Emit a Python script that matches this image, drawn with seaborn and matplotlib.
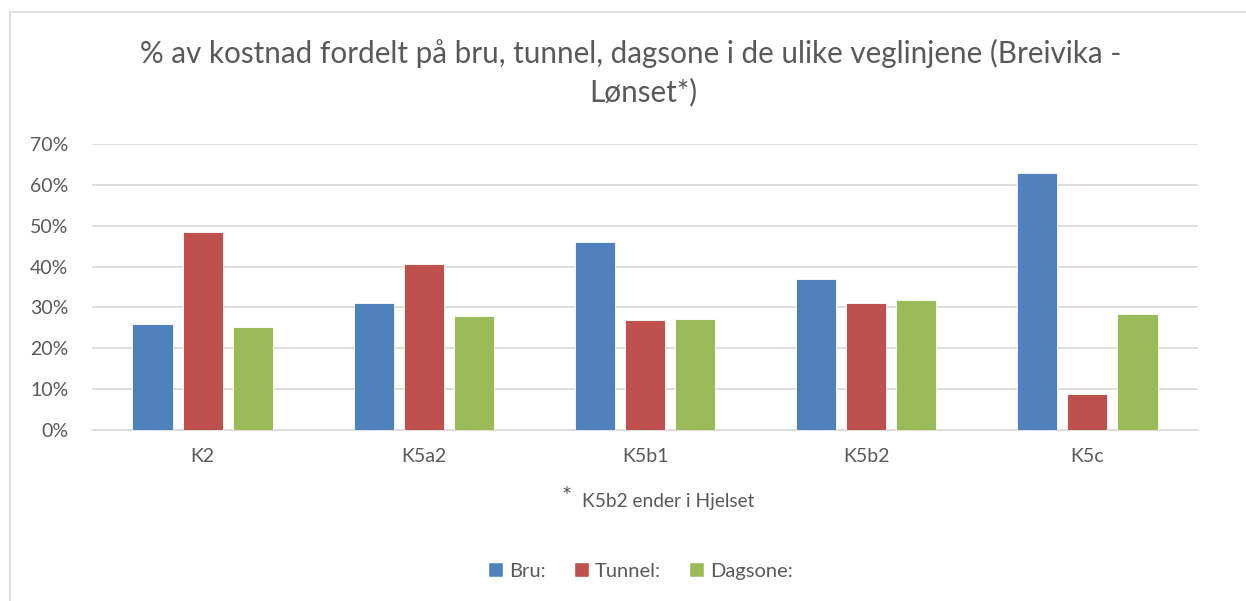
import numpy as np
import pandas as pd
import seaborn as sns
import matplotlib.pyplot as plt
import matplotlib.patches as mpatches
from matplotlib.ticker import PercentFormatter

# Data (percent of cost)
linjer = ['K2', 'K5a2', 'K5b1', 'K5b2', 'K5c']
bru = [26.0, 31.2, 45.9, 37.0, 62.8]
tunnel = [48.5, 40.6, 26.9, 31.1, 8.7]
dagsone = [25.3, 28.0, 27.1, 31.7, 28.3]
serier = ['Bru:', 'Tunnel:', 'Dagsone:']
farger = ['#4F81BD', '#C0504D', '#9BBB59']

df = pd.DataFrame({
    'linje': linjer * 3,
    'type': [serier[0]] * 5 + [serier[1]] * 5 + [serier[2]] * 5,
    'andel': bru + tunnel + dagsone,
})

sns.set_theme(style="white")
plt.rcParams['font.family'] = ['Lato', 'DejaVu Sans']
tekst = '#595959'
grid = '#D9D9D9'

fig = plt.figure(figsize=(12.46, 6.01), dpi=100)
ax = fig.add_axes([92/1246, 1-430/601, (1198-92)/1246, (430-144)/601])

sns.barplot(data=df, x='linje', y='andel', hue='type', palette=farger,
            width=0.68, gap=0.2, errorbar=None, saturation=1, ax=ax,
            edgecolor='white', linewidth=0.6, zorder=3)

ax.set_ylim(0, 70)
ax.set_yticks(np.arange(0, 71, 10))
ax.yaxis.set_major_formatter(PercentFormatter(100, decimals=0))
ax.set_xlim(-0.5, 4.5)
ax.set(xlabel='', ylabel='')
ax.grid(axis='y', color=grid, linewidth=1.2, zorder=0)
ax.set_axisbelow(True)
for s in ['left', 'right', 'top']:
    ax.spines[s].set_visible(False)
ax.spines['bottom'].set_color(grid)
ax.spines['bottom'].set_linewidth(1.2)
ax.tick_params(axis='both', length=0, labelsize=14, colors=tekst)
ax.tick_params(axis='x', pad=13)
ax.tick_params(axis='y', pad=17)
ax.get_legend().remove()

# Title in two lines
fig.text(0.506, 1-53/601, '% av kostnad fordelt på bru, tunnel, dagsone i de ulike veglinjene (Breivika -',
         ha='center', va='center', fontsize=21.3, color=tekst)
fig.text(0.516, 1-92/601, 'Lønset*)', ha='center', va='center', fontsize=21.3, color=tekst)

# Footnote
fig.text(562/1246, 1-497/601, '*', ha='left', va='center', fontsize=17, color=tekst)
fig.text(582/1246, 1-502/601, 'K5b2 ender i Hjelset', ha='left', va='center', fontsize=13.8, color=tekst)

# Legend
handles = [mpatches.Patch(facecolor=c) for c in farger]
fig.legend(handles=handles, labels=serier, loc='center', bbox_to_anchor=(0.514, 1-571/601),
           ncol=3, frameon=False, fontsize=14.5, labelcolor=tekst,
           handlelength=0.75, handleheight=0.75, handletextpad=0.3, columnspacing=1.4)

# Chart area border
ramme = mpatches.Rectangle((10/1246, -0.05), 1.1, 1.05 - 12/601, transform=fig.transFigure,
                           fill=False, edgecolor=grid, linewidth=1.2)
fig.add_artist(ramme)

fig.savefig('out.png', dpi=100, facecolor='white')
